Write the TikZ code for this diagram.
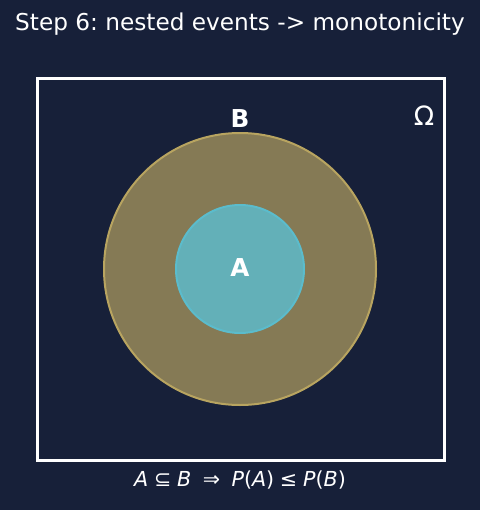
\documentclass[tikz,border=0pt]{standalone}
\usepackage{fontspec}
\setmainfont{DejaVu Sans}
\frenchspacing
\definecolor{bgnavy}{HTML}{172039}
\definecolor{bfill}{HTML}{857A55}
\definecolor{bedge}{HTML}{B8A460}
\definecolor{afill}{HTML}{63B0B8}
\definecolor{aedge}{HTML}{5BBCCC}
\tikzset{every picture/.style={line width=0.75pt}}
\tikzset{
  setlabel/.style={inner sep=0.75pt, text=white, font=\fontsize{18.5}{22}\selectfont\bfseries},
  plaintext/.style={inner sep=0.75pt, text=white}
}

\begin{document}
\begin{tikzpicture}[x=0.75pt,y=0.75pt,yscale=-1,xscale=1]
		%background, sets the size of the picture
		\fill [bgnavy] (0,0) rectangle (480,510) ;
		\useasboundingbox (0,0) rectangle (480,510) ;
		
		%Sample space
		\draw [white, line width=2.25pt] (37,79) rectangle (444,460) ;
		%Circle B
		\draw [bedge, fill=bfill, line width=1.5pt] (240,269) circle [radius=136] ;
		%Circle A
		\draw [aedge, fill=afill, line width=1.5pt] (240,269) circle [radius=64] ;
		
		% Text Node
		\node (title) at (240,24) [plaintext, font=\fontsize{17.4}{20}\selectfont] {Step 6: nested events -> monotonicity};
		% Text Node
		\node (labB) at (240,119) [setlabel] {B};
		% Text Node
		\node (labA) at (240,268) [setlabel] {A};
		% Text Node
		\node (omega) at (424,116) [plaintext, font=\fontsize{20}{24}\selectfont] {Ω};
		% Text Node
		\node (rule) at (240,480) [plaintext, font=\fontsize{15.5}{18}\selectfont] {\itshape A\upshape\;⊆\;\itshape B\upshape\;\;⇒\;\;\itshape P\upshape(\itshape A\upshape)\;≤\;\itshape P\upshape(\itshape B\upshape)};
	\end{tikzpicture}
\end{document}
